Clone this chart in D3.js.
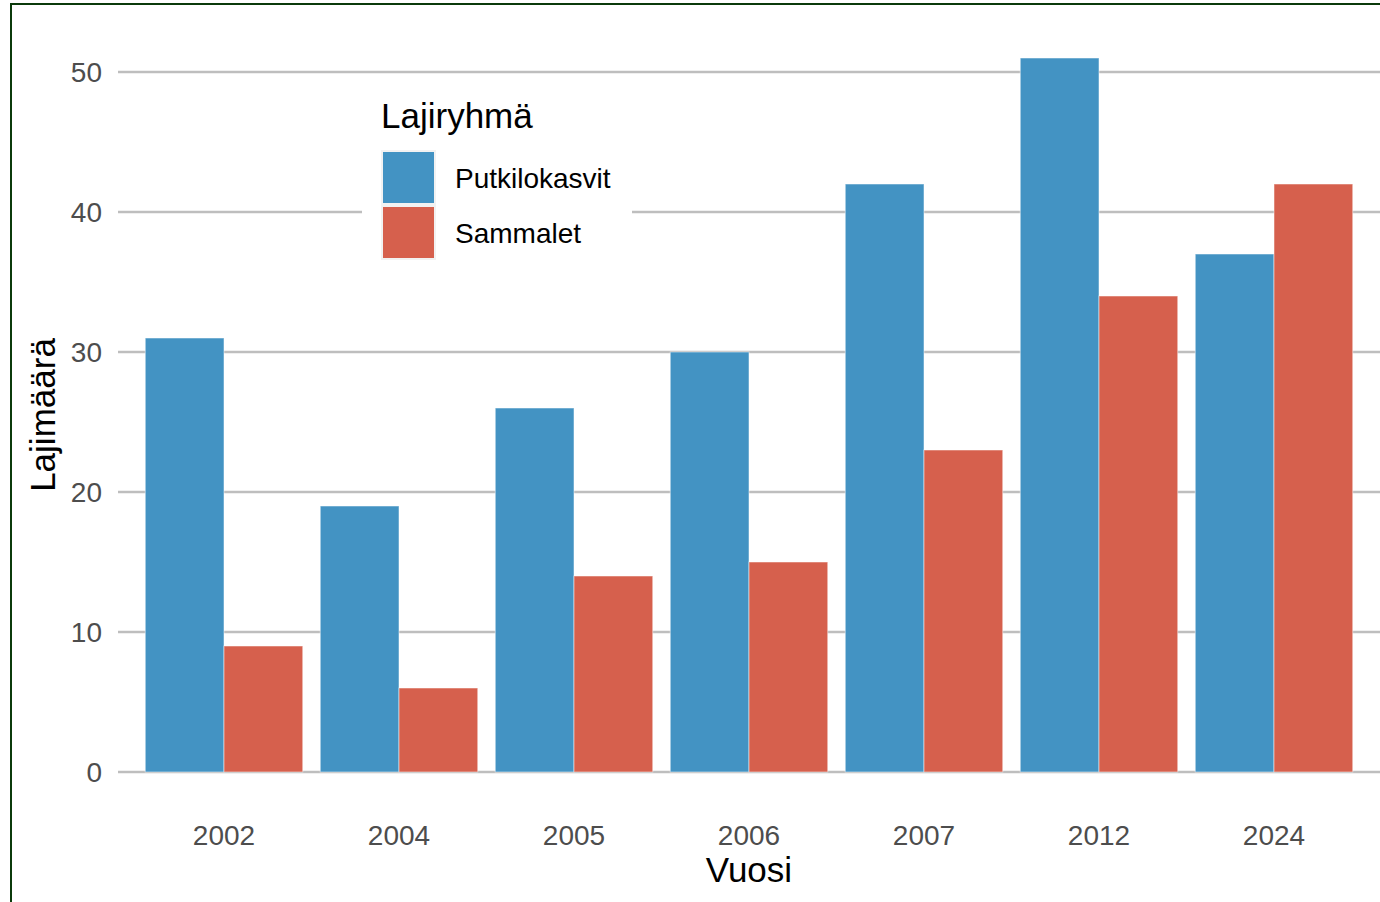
<!DOCTYPE html>
<html><head><meta charset="utf-8">
<script src="https://cdn.jsdelivr.net/npm/d3@7"></script>
<style>html,body{margin:0;padding:0;background:#fff;overflow:hidden}svg{display:block}</style>
</head><body>
<script>
const years = ["2002","2004","2005","2006","2007","2012","2024"];
const groups = ["Putkilokasvit","Sammalet"];
const putkilokasvit = [31,19,26,30,42,51,37];
const sammalet = [9,6,14,15,23,34,42];
const yTicks = [0,10,20,30,40,50];
const colors = ["#4393C3","#D6604D"];
const FONT="Liberation Sans, Arial, sans-serif";

const W=1380,H=902;
const svg=d3.select("body").append("svg").attr("width",W).attr("height",H);
svg.append("rect").attr("x",11).attr("y",4).attr("width",1400).attr("height",950)
  .attr("fill","#fff").attr("stroke","#0b3a0b").attr("stroke-width",2);

// discrete x scale with ggplot-style 0.6 expansion
const x=d3.scalePoint().domain(years).range([119+1260/7.2*0.6,1379-1260/7.2*0.6]);
const step=x.step();
const y=d3.scaleLinear().domain([0,50]).range([772,72]);

const g=svg.append("g");
g.selectAll("line.grid").data(yTicks).join("line")
  .attr("x1",118).attr("x2",1380).attr("y1",d=>y(d)).attr("y2",d=>y(d))
  .attr("stroke","#bebebe").attr("stroke-width",2.5);

const sub=d3.scaleBand().domain(groups).range([-step*0.45,step*0.45]);
const data=years.map((yr,i)=>({yr,vals:[putkilokasvit[i],sammalet[i]]}));
data.forEach(d=>{
  d.vals.forEach((v,j)=>{
    g.append("rect").attr("x",x(d.yr)+sub(groups[j])).attr("width",sub.bandwidth())
     .attr("y",y(v)).attr("height",y(0)-y(v))
     .attr("fill",colors[j]).attr("stroke","#ffffff").attr("stroke-opacity",0.5).attr("stroke-width",1);
  });
});

svg.selectAll("text.yl").data(yTicks).join("text")
  .attr("x",102).attr("y",d=>y(d)).attr("dy","0.36em").attr("text-anchor","end")
  .attr("font-family",FONT).attr("font-size",28).attr("fill","#4d4d4d").text(d=>d);
svg.selectAll("text.xl").data(years).join("text")
  .attr("x",d=>x(d)).attr("y",845).attr("text-anchor","middle")
  .attr("font-family",FONT).attr("font-size",28).attr("fill","#4d4d4d").text(d=>d);
svg.append("text").attr("x",749).attr("y",882).attr("text-anchor","middle")
  .attr("font-family",FONT).attr("font-size",35).attr("fill","#000").text("Vuosi");
svg.append("text").attr("transform","translate(55,415) rotate(-90)").attr("text-anchor","middle")
  .attr("font-family",FONT).attr("font-size",35).attr("fill","#000").text("Lajimäärä");

const lg=svg.append("g");
lg.append("rect").attr("x",362).attr("y",92).attr("width",270).attr("height",180).attr("fill","#fff");
lg.append("text").attr("x",381).attr("y",128).attr("font-family",FONT)
  .attr("font-size",35).attr("fill","#000").text("Lajiryhmä");
groups.forEach((gname,i)=>{
  const ky=151+i*55;
  lg.append("rect").attr("x",382).attr("y",ky).attr("width",53).attr("height",53)
    .attr("fill",colors[i]).attr("stroke","#f2f2f2").attr("stroke-width",2);
  lg.append("text").attr("x",455).attr("y",ky+26.5).attr("dy","0.36em")
    .attr("font-family",FONT).attr("font-size",28).attr("fill","#000").text(gname);
});
</script>
</body></html>
